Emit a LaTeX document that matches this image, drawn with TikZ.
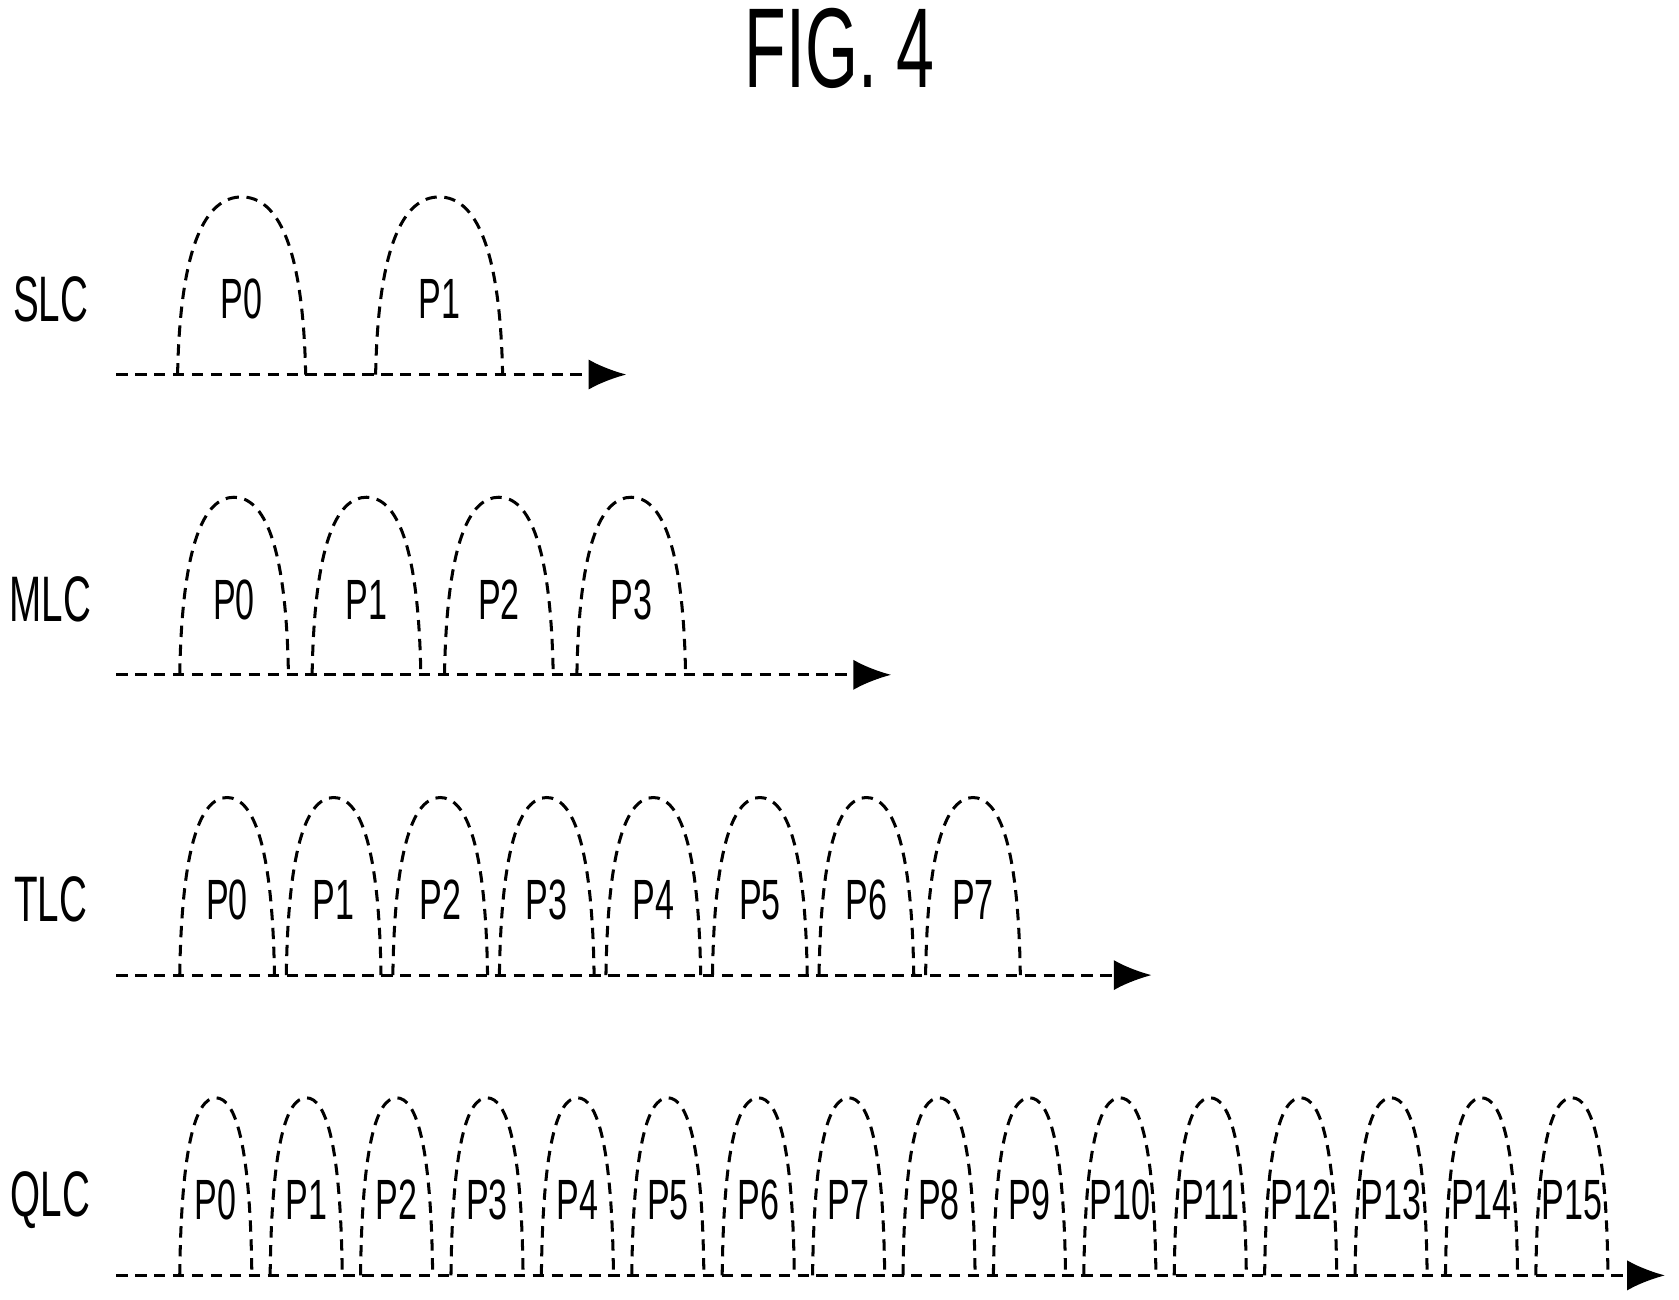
\documentclass[tikz,border=0pt]{standalone}
\usepackage{fontspec}
\setmainfont[FakeStretch=0.6]{Liberation Sans}
\usetikzlibrary{arrows.meta}
\tikzstyle{axis}=[densely dashed,line width=0.8pt,arrows={-{Latex[length=10pt,width=8pt]}}]
\tikzstyle{hump}=[densely dashed,line width=0.8pt]
\tikzstyle{lbl}=[font=\fontsize{17}{20}\selectfont]
\tikzstyle{plbl}=[font=\fontsize{15}{18}\selectfont,inner sep=1pt]
% hump from x0 to x1 on baseline b, height 165
\newcommand{\hump}[5]{%
  \pgfmathsetmacro\hA{#1}\pgfmathsetmacro\hB{#2}%
  \pgfmathsetmacro\hW{\hB-\hA}\pgfmathsetmacro\hM{(\hA+\hB)/2}%
  \draw[hump] (\hA,#3) .. controls ({\hA+0.02*\hW},#3-120) and ({\hA+0.22*\hW},#3-165) .. (\hM,#3-165)
     .. controls ({\hB-0.22*\hW},#3-165) and ({\hB-0.02*\hW},#3-120) .. (\hB,#3);
  \node[plbl] (#4) at (\hM,#3-70) {#5};}
\begin{document}
\begin{tikzpicture}[x=0.01cm,y=-0.01cm]
    \useasboundingbox (0,0) rectangle (1560,1207);
    \node[font=\fontsize{30}{34}\selectfont] (title) at (780,45) {FIG. 4};

    % SLC
    \node[lbl] (slc) at (47,278) {SLC};
    \coordinate (slc-s) at (108,348);
    \coordinate (slc-e) at (582,348);
    \draw[axis] (slc-s) -- (slc-e);
    \hump{165}{284}{348}{slc-p0}{P0}
    \hump{349}{467}{348}{slc-p1}{P1}

    % MLC
    \node[lbl] (mlc) at (47,557) {MLC};
    \coordinate (mlc-s) at (108,627);
    \coordinate (mlc-e) at (828,627);
    \draw[axis] (mlc-s) -- (mlc-e);
    \foreach \i in {0,...,3}
      {\hump{167+123*\i}{268+123*\i}{627}{mlc-p\i}{P\i}}

    % TLC
    \node[lbl] (tlc) at (47,836) {TLC};
    \coordinate (tlc-s) at (108,906);
    \coordinate (tlc-e) at (1070,906);
    \draw[axis] (tlc-s) -- (tlc-e);
    \foreach \i in {0,...,7}
      {\hump{167+99*\i}{255+99*\i}{906}{tlc-p\i}{P\i}}

    % QLC
    \node[lbl] (qlc) at (47,1115) {QLC};
    \coordinate (qlc-s) at (108,1185);
    \coordinate (qlc-e) at (1547,1185);
    \draw[axis] (qlc-s) -- (qlc-e);
    \foreach \i in {0,...,15}
      {\hump{167+84*\i}{234+84*\i}{1185}{qlc-p\i}{P\i}}
\end{tikzpicture}
\end{document}
